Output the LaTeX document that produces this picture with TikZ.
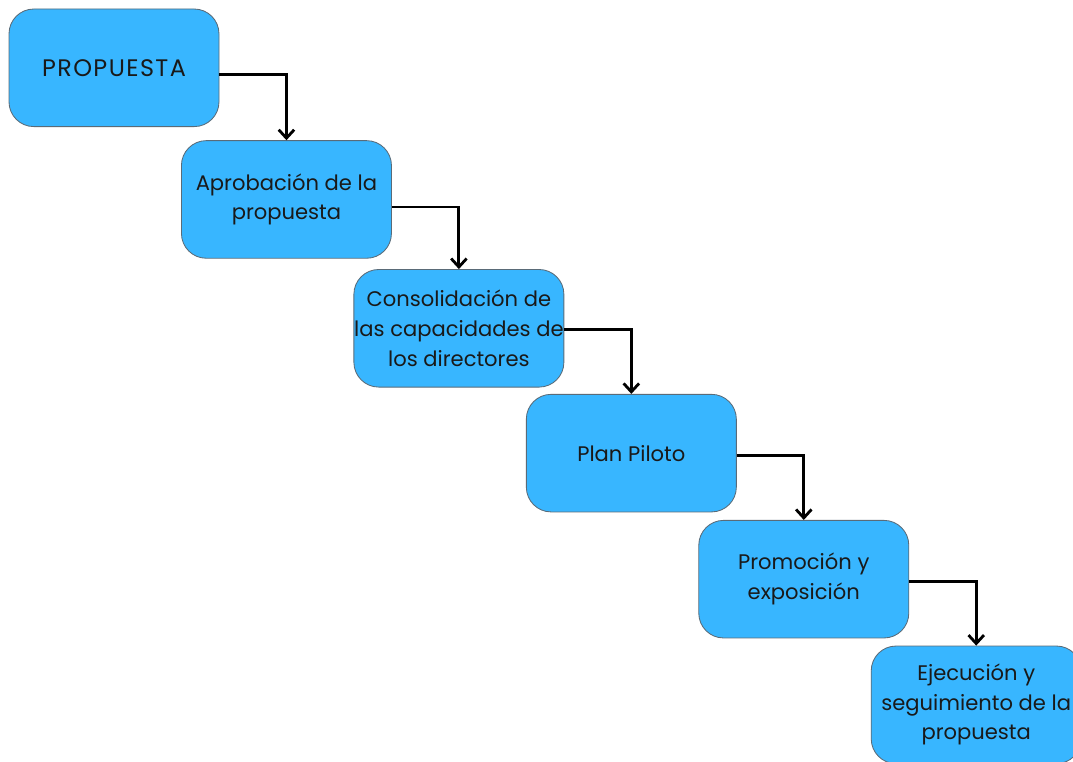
\documentclass[tikz,border=0pt]{standalone}
\usepackage{fontspec}
\setmainfont{Poppins}
\usepackage{xcolor}
\usetikzlibrary{arrows.meta}
\usetikzlibrary{positioning}

\definecolor{stepblue}{HTML}{38B6FF}
\definecolor{stepedge}{HTML}{5A6B78}

\begin{document}
\begin{tikzpicture}
\tikzset{stepbox/.style={rectangle,rounded corners=0.62cm,fill=stepblue,draw=stepedge,line width=0.6pt,minimum width=5.25cm,minimum height=2.94cm,align=center,font=\fontsize{15}{21}\selectfont,text=black!90,inner sep=0pt},
stepflow/.style={line width=2pt,-{Straight Barb[length=6pt,width=11pt]}}}
\useasboundingbox (0,0) rectangle (26.825,-19.025);
\node[stepbox,font=\fontsize{17}{21}\selectfont\addfontfeature{LetterSpace=6}](a) at (2.85,-1.695){PROPUESTA};
\node[stepbox](b)[below right=0.33cm and -0.96cm of a]{Aprobación de la\\propuesta};
\node[stepbox](c)[below right=0.26cm and -0.96cm of b]{Consolidación de\\las capacidades de\\los directores};
\node[stepbox](d)[below right=0.16cm and -0.96cm of c]{Plan Piloto};
\node[stepbox](e)[below right=0.19cm and -0.96cm of d]{Promoción y\\exposición};
\node[stepbox](f)[below right=0.18cm and -0.96cm of e]{Ejecución y\\seguimiento de la\\propuesta};
\draw[stepflow]([yshift=-0.17cm]a.east) -| (b.north);
\draw[stepflow]([yshift=-0.19cm]b.east) -| (c.north);
\draw[stepflow]([yshift=-0.03cm]c.east) -| (d.north);
\draw[stepflow]([yshift=-0.05cm]d.east) -| (e.north);
\draw[stepflow]([yshift=-0.05cm]e.east) -| (f.north);
\end{tikzpicture}
\end{document}
